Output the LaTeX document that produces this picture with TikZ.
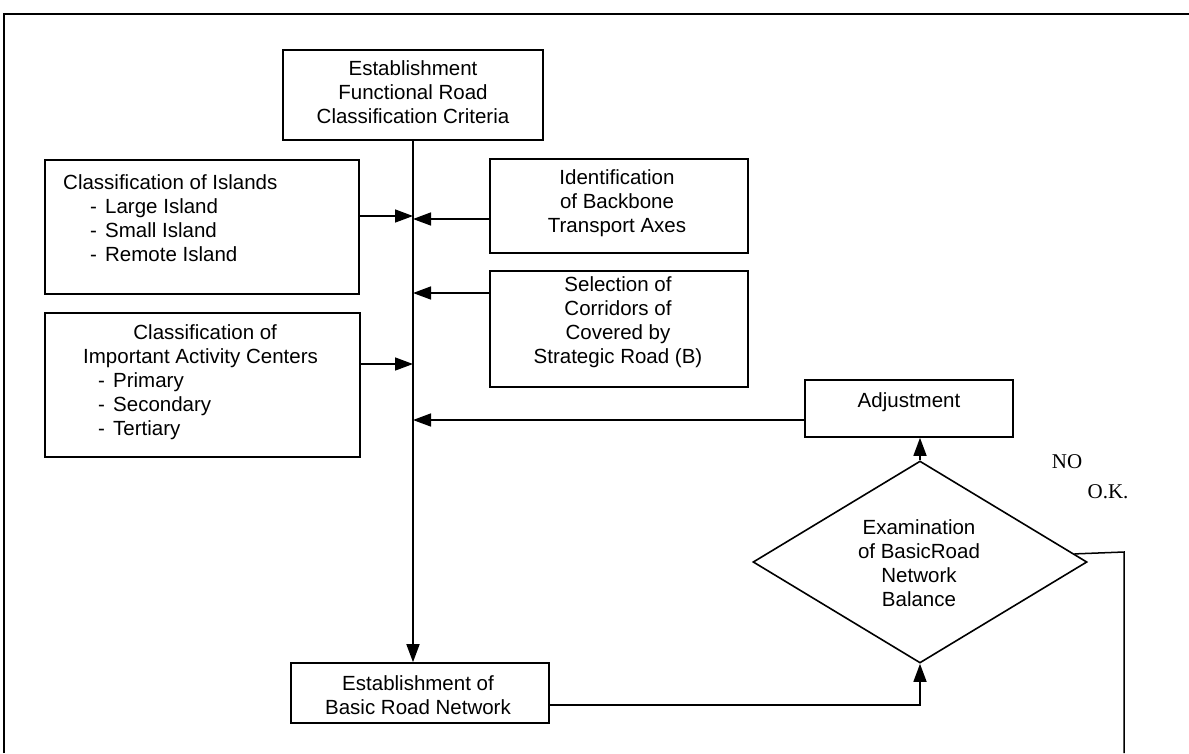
\documentclass[tikz,border=0pt]{standalone}
\usepackage{fontspec}
\setmainfont{Liberation Sans}
\newfontfamily\serifnum{Liberation Serif}
\usetikzlibrary{arrows.meta,shapes.geometric,calc}
\tikzset{
  box/.style={draw,line width=1.6pt,rectangle,inner sep=0pt},
  txt/.style={inner sep=0pt,font=\fontsize{20.5}{24}\selectfont},
  conn/.style={line width=1.5pt},
  arr/.style={conn,-{Triangle[length=18pt,width=13pt]}},
  frame/.style={line width=1.8pt}
}
\begin{document}
\begin{tikzpicture}[x=1pt,y=-1pt]
\useasboundingbox (0,0) rectangle (1189,753);
% outer frame (scan edge)
\coordinate (fbl) at (4,753);
\coordinate (ftl) at (4,14);
\coordinate (ftr) at (1189,14);
\draw[frame] (fbl) -- (ftl) -- (ftr);

% boxes
\node[box,minimum width=260pt,minimum height=90pt] (top) at (413,95) {};
\node[box,minimum width=314pt,minimum height=134pt] (isl) at (202,227) {};
\node[box,minimum width=258pt,minimum height=94pt] (ident) at (619,206) {};
\node[box,minimum width=258pt,minimum height=116pt] (sel) at (619,329) {};
\node[box,minimum width=315pt,minimum height=144pt] (act) at (202.5,385) {};
\node[box,minimum width=208pt,minimum height=57pt] (adj) at (909,408.5) {};
\node[draw,line width=1.6pt,diamond,inner sep=0pt,minimum width=334pt,minimum height=202pt] (dia) at (920,562) {};
\node[box,minimum width=258pt,minimum height=60pt] (bot) at (420,693) {};

% texts
\node[txt,align=center] (ttop) at (413,92.5) {Establishment\\Functional Road\\Classification Criteria};
\node[txt,align=left,anchor=west] (tisl) at (63,218) {Classification of Islands\\
  \hspace*{27pt}\makebox[15pt][l]{-}Large Island\\
  \hspace*{27pt}\makebox[15pt][l]{-}Small Island\\
  \hspace*{27pt}\makebox[15pt][l]{-}Remote Island};
\node[txt,align=center] (tident) at (617,203) {Identification\\of Backbone\\Transport Axes};
\node[txt,align=center] (tsel) at (618,322) {Selection of\\Corridors of\\Covered by\\Strategic Road (B)};
\node[txt,align=left,anchor=west] (tact) at (83,382) {\makebox[244pt][c]{Classification of}\\
  Important Activity Centers\\
  \hspace*{15pt}\makebox[15pt][l]{-}Primary\\
  \hspace*{15pt}\makebox[15pt][l]{-}Secondary\\
  \hspace*{15pt}\makebox[15pt][l]{-}Tertiary};
\node[txt] (tadj) at (909,402) {Adjustment};
\node[txt,align=center] (tdia) at (919,563) {Examination\\of BasicRoad\\Network\\Balance};
\node[txt,align=center] (tbot) at (418,695) {Establishment of\\Basic Road Network};
\node[inner sep=0pt,font=\serifnum\fontsize{21}{24}\selectfont] (no) at (1067,462) {NO};
\node[inner sep=0pt,font=\serifnum\fontsize{21}{24}\selectfont] (okl) at (1108,492) {O.K.};

% junctions on main line
\coordinate (j1) at (413,216);
\coordinate (j2) at (413,219);
\coordinate (j3) at (413,293);
\coordinate (j4) at (413,364);
\coordinate (j5) at (413,420);
\coordinate (j6) at (921,705);
\coordinate (rk) at (1124,552);
\coordinate (rend) at (1124,753);

% connectors
\draw[arr] (top.south) -- (top.south |- bot.north);
\draw[arr] (isl.east |- j1) -- (j1);
\draw[arr] (ident.west |- j2) -- (j2);
\draw[arr] (sel.west |- j3) -- (j3);
\draw[arr] (act.east |- j4) -- (j4);
\draw[arr] (adj.west |- j5) -- (j5);
\draw[arr] (dia.north) -- (dia.north |- adj.south);
\draw[arr] (bot.east |- j6) -- (dia.south |- j6) -- (dia.south);
\draw[conn] (dia.3.8) -- (rk) -- (rend);
\end{tikzpicture}
\end{document}
